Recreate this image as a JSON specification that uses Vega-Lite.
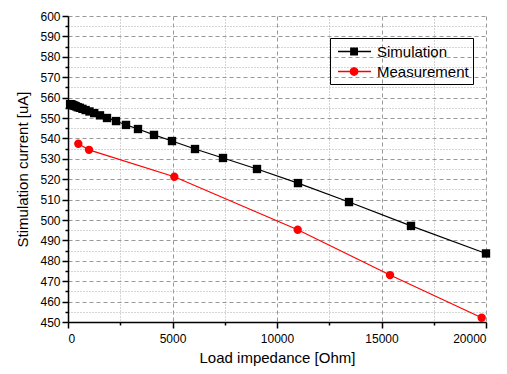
{
  "$schema": "https://vega.github.io/schema/vega-lite/v6.json",
  "width": 418,
  "height": 306,
  "autosize": {"type": "none"},
  "padding": {"left": 68, "top": 16, "right": 21, "bottom": 52},
  "background": "white",
  "config": {
    "view": {"stroke": null},
    "font": "Liberation Sans",
    "axis": {
      "labelFont": "Liberation Sans",
      "titleFont": "Liberation Sans",
      "labelColor": "black",
      "titleColor": "black",
      "labelFontSize": 12,
      "titleFontSize": 15,
      "titleFontWeight": "normal",
      "domainColor": "black",
      "domainWidth": 1.5,
      "tickColor": "black",
      "tickWidth": 1.5
    },
    "legend": {
      "labelFont": "Liberation Sans",
      "labelColor": "black"
    }
  },
  "data": {
    "values": [
      {"series": "Simulation", "impedance": 100, "current": 556.8},
      {"series": "Simulation", "impedance": 115, "current": 556.7},
      {"series": "Simulation", "impedance": 141, "current": 556.6},
      {"series": "Simulation", "impedance": 172, "current": 556.5},
      {"series": "Simulation", "impedance": 209, "current": 556.4},
      {"series": "Simulation", "impedance": 255, "current": 556.2},
      {"series": "Simulation", "impedance": 312, "current": 556.0},
      {"series": "Simulation", "impedance": 380, "current": 555.7},
      {"series": "Simulation", "impedance": 464, "current": 555.3},
      {"series": "Simulation", "impedance": 566, "current": 555.0},
      {"series": "Simulation", "impedance": 691, "current": 554.5},
      {"series": "Simulation", "impedance": 843, "current": 553.9},
      {"series": "Simulation", "impedance": 1028, "current": 553.2},
      {"series": "Simulation", "impedance": 1254, "current": 552.4},
      {"series": "Simulation", "impedance": 1530, "current": 551.3},
      {"series": "Simulation", "impedance": 1866, "current": 550.0},
      {"series": "Simulation", "impedance": 2297, "current": 548.5},
      {"series": "Simulation", "impedance": 2775, "current": 546.6},
      {"series": "Simulation", "impedance": 3349, "current": 544.6},
      {"series": "Simulation", "impedance": 4115, "current": 541.7},
      {"series": "Simulation", "impedance": 4976, "current": 538.7},
      {"series": "Simulation", "impedance": 6077, "current": 534.8},
      {"series": "Simulation", "impedance": 7416, "current": 530.4},
      {"series": "Simulation", "impedance": 9043, "current": 525.0},
      {"series": "Simulation", "impedance": 11005, "current": 518.1},
      {"series": "Simulation", "impedance": 13445, "current": 508.8},
      {"series": "Simulation", "impedance": 16411, "current": 497.1},
      {"series": "Simulation", "impedance": 20000, "current": 483.6},
      {"series": "Measurement", "impedance": 493, "current": 537.4},
      {"series": "Measurement", "impedance": 1005, "current": 534.4},
      {"series": "Measurement", "impedance": 5086, "current": 521.2},
      {"series": "Measurement", "impedance": 10990, "current": 495.2},
      {"series": "Measurement", "impedance": 15407, "current": 473.0},
      {"series": "Measurement", "impedance": 19794, "current": 452.1}
    ]
  },
  "resolve": {
    "axis": {"x": "independent", "y": "independent"}
  },
  "layer": [
    {
      "transform": [{"filter": "datum.series === 'Simulation'"}],
      "mark": {"type": "line", "strokeWidth": 1.2, "color": "black"},
      "encoding": {
        "x": {
          "field": "impedance", "type": "quantitative",
          "scale": {"domain": [0, 20000], "nice": false, "zero": false},
          "axis": {
            "orient": "bottom",
            "values": [0, 5000, 10000, 15000, 20000],
            "format": "d",
            "tickSize": 6,
            "labelPadding": 5,
            "title": "Load impedance [Ohm]",
            "titlePadding": 6,
            "grid": true,
            "gridColor": "#999999",
            "gridDash": [4, 3],
            "gridWidth": 1
          }
        },
        "y": {
          "field": "current", "type": "quantitative",
          "scale": {"domain": [450, 600], "nice": false, "zero": false},
          "axis": {
            "orient": "left",
            "values": [450, 460, 470, 480, 490, 500, 510, 520, 530, 540, 550, 560, 570, 580, 590, 600],
            "format": "d",
            "tickSize": 6,
            "labelPadding": 2,
            "title": "Stimulation current [uA]",
            "titlePadding": 9,
            "grid": true,
            "gridColor": "#999999",
            "gridDash": [4, 3],
            "gridWidth": 1
          }
        }
      }
    },
    {
      "transform": [{"filter": "datum.series === 'Measurement'"}],
      "mark": {"type": "line", "strokeWidth": 1.2, "color": "#ff0000"},
      "encoding": {
        "x": {"field": "impedance", "type": "quantitative", "axis": null},
        "y": {"field": "current", "type": "quantitative", "axis": null}
      }
    },
    {
      "transform": [{"filter": "datum.series === 'Simulation'"}],
      "mark": {"type": "point", "filled": true, "size": 70, "opacity": 1, "shape": "square", "color": "black"},
      "encoding": {
        "x": {
          "field": "impedance", "type": "quantitative",
          "axis": {
            "orient": "bottom",
            "values": [2500, 7500, 12500, 17500],
            "labels": false,
            "domain": false,
            "tickSize": 3,
            "title": null,
            "grid": true,
            "gridColor": "#aaaaaa",
            "gridDash": [1, 2],
            "gridWidth": 1
          }
        },
        "y": {
          "field": "current", "type": "quantitative",
          "axis": {
            "orient": "left",
            "values": [455, 465, 475, 485, 495, 505, 515, 525, 535, 545, 555, 565, 575, 585, 595],
            "labels": false,
            "domain": false,
            "tickSize": 3,
            "title": null,
            "grid": true,
            "gridColor": "#aaaaaa",
            "gridDash": [1, 2],
            "gridWidth": 1
          }
        }
      }
    },
    {
      "transform": [{"filter": "datum.series === 'Measurement'"}],
      "mark": {"type": "point", "filled": true, "size": 70, "opacity": 1, "shape": "circle", "color": "#ff0000"},
      "encoding": {
        "x": {"field": "impedance", "type": "quantitative", "axis": null},
        "y": {"field": "current", "type": "quantitative", "axis": null}
      }
    },
    {
      "mark": {"type": "point", "filled": false, "opacity": 0},
      "encoding": {
        "x": {"field": "impedance", "type": "quantitative", "axis": null},
        "y": {"field": "current", "type": "quantitative", "axis": null},
        "color": {
          "field": "series", "type": "nominal",
          "scale": {"domain": ["Simulation", "Measurement"], "range": ["black", "#ff0000"]},
          "legend": {
            "title": null,
            "orient": "none",
            "legendX": 262,
            "legendY": 22,
            "strokeColor": "black",
            "padding": 4,
            "symbolSize": 289,
            "symbolStrokeWidth": 1.4,
            "labelOffset": 24,
            "labelFontSize": 15
          }
        },
        "shape": {
          "field": "series", "type": "nominal",
          "scale": {
            "domain": ["Simulation", "Measurement"],
            "range": [
              "M-0.65,0L3.24,0M0.86,-0.38L1.62,-0.38L1.62,0.38L0.86,0.38ZM0.98,-0.26L1.5,-0.26L1.5,0.26L0.98,0.26ZM1.1,-0.14L1.38,-0.14L1.38,0.14L1.1,0.14ZM1.21,-0.03L1.27,-0.03L1.27,0.03L1.21,0.03Z",
              "M-0.65,0L3.24,0M1.68,0L1.621,0.22L1.46,0.381L1.24,0.44L1.02,0.381L0.859,0.22L0.8,0L0.859,-0.22L1.02,-0.381L1.24,-0.44L1.46,-0.381L1.621,-0.22ZM1.56,0L1.517,0.16L1.4,0.277L1.24,0.32L1.08,0.277L0.963,0.16L0.92,0L0.963,-0.16L1.08,-0.277L1.24,-0.32L1.4,-0.277L1.517,-0.16ZM1.44,0L1.381,0.141L1.24,0.2L1.099,0.141L1.04,0L1.099,-0.141L1.24,-0.2L1.381,-0.141ZM1.32,0L1.24,0.08L1.16,0L1.24,-0.08Z"
            ]
          },
          "legend": {
            "title": null,
            "orient": "none",
            "legendX": 262,
            "legendY": 22,
            "strokeColor": "black",
            "padding": 4,
            "symbolSize": 289,
            "symbolStrokeWidth": 1.4,
            "labelOffset": 24,
            "labelFontSize": 15
          }
        }
      }
    }
  ]
}
